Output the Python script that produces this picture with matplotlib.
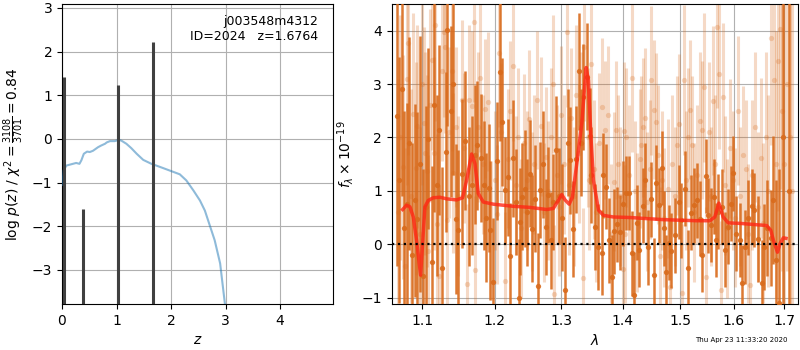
import numpy as np
import matplotlib
matplotlib.use('Agg')
import matplotlib.pyplot as plt
from matplotlib.ticker import NullLocator

# ---------------- p(z) panel data ----------------
z_grid = [0.005, 0.03, 0.08, 0.14, 0.20, 0.26, 0.32, 0.355, 0.40, 0.46, 0.51, 0.57,
          0.66, 0.72, 0.79, 0.82, 0.88, 0.97, 1.04, 1.09, 1.18, 1.27, 1.37, 1.49,
          1.64, 1.73, 1.86, 2.01, 2.16, 2.28, 2.41, 2.53, 2.62, 2.71, 2.80, 2.90, 2.99]
logp = [-1.05, -0.72, -0.61, -0.59, -0.57, -0.55, -0.57, -0.49, -0.34, -0.29, -0.30, -0.27,
        -0.19, -0.15, -0.11, -0.08, -0.05, -0.05, -0.02, -0.04, -0.11, -0.21, -0.34, -0.48,
        -0.57, -0.61, -0.67, -0.74, -0.81, -0.95, -1.18, -1.41, -1.64, -1.98, -2.32, -2.85, -3.80]
spike_z = [0.03, 0.39, 1.03, 1.665]
spike_logp = [1.42, -1.60, 1.23, 2.22]

obj_name = 'j003548m4312'
obj_id = 2024
z_best = 1.6764
chi2_num, chi2_den = 3108, 3701

# ---------------- spectrum panel data ----------------
# dark (primary) spectrum: wavelength [um], flux, error
wave_a = [1.0666, 1.0700, 1.0730, 1.0765, 1.0795, 1.0829, 1.0865, 1.0903, 1.0934, 1.0970,
          1.1005, 1.1045, 1.1080, 1.1125, 1.1160, 1.1193, 1.1228, 1.1269, 1.1315, 1.1337,
          1.1383, 1.1420, 1.1456, 1.1488, 1.1535, 1.1581, 1.1630, 1.1683, 1.1721, 1.1753,
          1.1801, 1.1848, 1.1880, 1.1915, 1.1934, 1.1973, 1.2035, 1.2074, 1.2107, 1.2157,
          1.2195, 1.2230, 1.2268, 1.2312, 1.2352, 1.2367, 1.2401, 1.2441, 1.2482, 1.2516,
          1.2557, 1.2602, 1.2641, 1.2678, 1.2718, 1.2759, 1.2794, 1.2836, 1.2871, 1.2924,
          1.2964, 1.3010, 1.3053, 1.3111, 1.3147, 1.3184, 1.3227, 1.3289, 1.3320, 1.3350,
          1.3417, 1.3452, 1.3480, 1.3534, 1.3595, 1.3650, 1.3677, 1.3722, 1.3771, 1.3826,
          1.3854, 1.3900, 1.3955, 1.4000, 1.4050, 1.4108, 1.4154, 1.4199, 1.4240, 1.4281,
          1.4339, 1.4387, 1.4428, 1.4488, 1.4530, 1.4578, 1.4625, 1.4674, 1.4710, 1.4747,
          1.4796, 1.4839, 1.4913, 1.4975, 1.5025, 1.5088, 1.5152, 1.5202, 1.5248, 1.5309,
          1.5357, 1.5410, 1.5467, 1.5515, 1.5564, 1.5628, 1.5665, 1.5701, 1.5780, 1.5832,
          1.5890, 1.5940, 1.5980, 1.6050, 1.6114, 1.6163, 1.6210, 1.6270, 1.6355, 1.6400,
          1.6470, 1.6550, 1.6600, 1.6660, 1.6726, 1.6775, 1.6840, 1.6904, 1.6977, 1.7100]
flux_a = [2.40, 1.20, 2.90, 0.30, 0.75, 1.89, -0.20, 0.82, 0.48, 1.50,
          -0.60, 0.69, 1.98, -0.34, 2.60, 1.10, 2.14, -0.45, 1.72, 4.01,
          2.49, 3.00, 0.47, 0.26, 1.32, 1.94, 0.90, 1.10, 1.68, 1.85,
          1.62, 1.10, 0.50, 1.06, 0.26, -0.70, 1.56, 3.23, 2.29, 1.01,
          1.25, -0.22, 1.61, 0.79, -1.00, 0.42, 0.89, 1.04, 0.60, 1.32,
          0.29, 0.85, -0.79, 1.01, 1.50, 0.32, 0.93, 0.07, 0.79, 1.77,
          0.90, 0.50, -0.86, 1.90, 1.57, 0.29, 1.59, 3.24, 1.90, 2.76,
          3.14, 2.02, 1.29, 0.32, -0.05, -0.16, 1.29, 1.08, 0.07, -0.62,
          0.24, 0.37, 0.22, 0.76, 0.96, 0.96, -0.17, -0.95, 0.40, -0.10,
          0.72, 1.20, -0.06, 0.84, -0.58, 1.15, 0.73, 1.43, 0.30, -0.52,
          0.03, -0.12, 0.17, 0.79, 0.45, 1.04, -0.44, 0.59, 0.73, 0.82,
          0.48, -0.20, 1.28, 0.54, 0.36, 0.89, 0.08, 0.61, 0.70, -0.10,
          0.33, 0.76, 1.33, 0.20, 0.08, -0.72, -0.05, 0.50, 0.71, 0.64,
          0.10, -0.72, -0.05, 0.30, 0.12, 0.82, -0.30, -1.10, 2.00, 1.00]
err_a = [2.8, 2.3, 2.0, 2.2, 1.9, 2.0, 2.1, 1.8, 2.0, 2.4,
         2.0, 1.9, 1.7, 1.8, 2.0, 1.7, 1.6, 1.9, 1.5, 1.8,
         1.6, 1.7, 1.4, 1.5, 1.4, 1.3, 1.3, 1.3, 1.3, 1.2,
         1.2, 1.2, 1.2, 1.2, 1.3, 1.2, 1.1, 1.3, 1.2, 1.0,
         1.1, 1.0, 1.1, 1.0, 1.1, 1.0, 1.0, 1.1, 1.0, 1.0,
         1.0, 1.0, 1.0, 0.9, 1.0, 0.9, 0.9, 0.9, 0.9, 1.0,
         0.9, 1.0, 1.0, 1.0, 1.0, 0.9, 1.0, 1.1, 1.0, 1.0,
         1.0, 0.9, 0.9, 0.8, 0.8, 0.8, 0.8, 0.8, 0.8, 0.8,
         0.8, 0.7, 0.7, 0.8, 0.7, 0.7, 0.8, 0.8, 0.7, 0.7,
         0.7, 0.7, 0.7, 0.7, 0.7, 0.7, 0.7, 0.7, 0.7, 0.7,
         0.7, 0.7, 0.7, 0.7, 0.7, 0.7, 0.7, 0.7, 0.7, 0.7,
         0.7, 0.7, 0.7, 0.7, 0.7, 0.7, 0.7, 0.7, 0.7, 0.7,
         0.7, 0.7, 0.7, 0.7, 0.7, 0.7, 0.7, 0.7, 0.7, 0.7,
         0.8, 0.8, 0.8, 0.9, 0.9, 1.2, 1.5, 2.5, 4.0, 5.0]

# light (secondary) spectrum
wave_b = [1.0680, 1.0715, 1.0751, 1.0780, 1.0803, 1.0816, 1.0850, 1.0882, 1.0913, 1.0926,
          1.0965, 1.1000, 1.1018, 1.1036, 1.1058, 1.1080, 1.1105, 1.1133, 1.1160, 1.1169,
          1.1191, 1.1227, 1.1259, 1.1290, 1.1310, 1.1327, 1.1360, 1.1395, 1.1418, 1.1450,
          1.1490, 1.1533, 1.1565, 1.1603, 1.1635, 1.1682, 1.1706, 1.1724, 1.1760, 1.1790,
          1.1830, 1.1862, 1.1910, 1.1949, 1.2000, 1.2037, 1.2066, 1.2100, 1.2149, 1.2190,
          1.2230, 1.2270, 1.2310, 1.2350, 1.2390, 1.2430, 1.2470, 1.2506, 1.2550, 1.2590,
          1.2630, 1.2691, 1.2730, 1.2760, 1.2800, 1.2835, 1.2872, 1.2896, 1.2940, 1.2970,
          1.3001, 1.3040, 1.3089, 1.3120, 1.3158, 1.3200, 1.3240, 1.3280, 1.3310, 1.3341,
          1.3368, 1.3420, 1.3450, 1.3480, 1.3520, 1.3560, 1.3600, 1.3654, 1.3710, 1.3754,
          1.3800, 1.3848, 1.3880, 1.3920, 1.3960, 1.4005, 1.4021, 1.4044, 1.4061, 1.4110,
          1.4157, 1.4200, 1.4250, 1.4290, 1.4317, 1.4346, 1.4375, 1.4420, 1.4460, 1.4491,
          1.4538, 1.4570, 1.4608, 1.4640, 1.4680, 1.4720, 1.4786, 1.4815, 1.4860, 1.4900,
          1.4948, 1.4984, 1.5030, 1.5075, 1.5100, 1.5136, 1.5178, 1.5220, 1.5260, 1.5310,
          1.5360, 1.5405, 1.5441, 1.5480, 1.5534, 1.5570, 1.5608, 1.5650, 1.5683, 1.5721,
          1.5750, 1.5790, 1.5830, 1.5880, 1.5930, 1.5980, 1.6030, 1.6086, 1.6130, 1.6183,
          1.6230, 1.6270, 1.6313, 1.6360, 1.6420, 1.6480, 1.6531, 1.6580, 1.6630, 1.6680,
          1.6731, 1.6792, 1.6840, 1.6881, 1.6915, 1.6960, 1.7000, 1.7050, 1.7120, 1.7155]
flux_b = [0.60, 2.00, 1.45, -0.40, 3.10, 3.77, 0.90, 2.44, 1.42, 2.21,
          0.20, 3.00, 2.27, 1.70, 1.37, -0.12, 2.60, 3.46, 1.70, 4.10,
          0.37, -0.59, 3.25, 3.98, 3.69, 0.46, 2.10, 3.25, 1.34, 2.20,
          0.90, 2.70, 1.80, -0.74, 2.71, 2.59, 4.17, -0.49, 2.20, 3.12,
          1.50, 2.54, 2.67, 0.26, 1.20, 0.56, 3.59, 2.10, -0.69, 1.60,
          2.50, 3.33, 1.10, 2.00, 0.30, 1.89, 1.20, 2.34, 0.80, 1.50,
          2.70, 2.21, 0.60, 1.64, 1.00, 2.00, 3.00, -0.94, 1.30, 0.70,
          2.42, 1.50, 3.97, 1.10, 2.37, 0.90, 2.80, 1.70, 2.30, -0.63,
          3.70, 2.00, 1.20, 3.38, 1.40, 0.60, 1.90, 2.57, 2.14, 2.42,
          0.20, 1.17, 2.14, 1.50, 0.90, -0.47, 2.12, 0.19, 2.00, 1.30,
          3.12, 1.00, 0.40, 1.60, 1.85, 2.19, 2.37, 0.80, 1.40, 3.07,
          2.52, 2.29, 1.68, -0.22, 1.20, 0.50, 1.04, -0.80, 1.50, 0.90,
          1.85, 2.26, -0.92, 3.08, 1.20, 2.00, 2.52, 1.85, 0.60, 1.30,
          2.30, 2.14, 2.94, -0.61, 2.11, 0.90, 2.69, 1.50, 4.06, 3.19,
          -0.86, 2.75, 1.10, 0.30, 1.80, 1.20, 0.50, 2.50, 0.90, 1.67,
          1.40, 0.20, -0.77, 1.30, 2.20, 0.70, 1.61, 0.40, 2.00, 1.00,
          3.86, 3.07, 1.50, 3.43, 4.04, 2.50, 1.50, 3.00, 2.00, 1.00]
err_b = [2.5, 2.3, 2.1, 2.2, 2.0, 2.1, 2.0, 1.9, 2.0, 1.9,
         2.0, 1.9, 1.8, 1.9, 1.8, 1.8, 1.8, 1.7, 1.8, 1.8,
         1.7, 1.7, 1.7, 1.6, 1.6, 1.6, 1.6, 1.5, 1.5, 1.5,
         1.5, 1.5, 1.4, 1.5, 1.4, 1.4, 1.5, 1.4, 1.4, 1.4,
         1.3, 1.3, 1.3, 1.3, 1.3, 1.3, 1.4, 1.3, 1.3, 1.3,
         1.3, 1.4, 1.3, 1.3, 1.3, 1.3, 1.3, 1.3, 1.3, 1.3,
         1.3, 1.3, 1.3, 1.3, 1.3, 1.3, 1.3, 1.3, 1.3, 1.3,
         1.3, 1.3, 1.4, 1.3, 1.3, 1.3, 1.3, 1.3, 1.3, 1.3,
         1.4, 1.3, 1.3, 1.3, 1.3, 1.3, 1.3, 1.3, 1.3, 1.3,
         1.3, 1.3, 1.3, 1.3, 1.3, 1.3, 1.3, 1.3, 1.3, 1.3,
         1.4, 1.3, 1.3, 1.3, 1.3, 1.3, 1.3, 1.3, 1.3, 1.4,
         1.3, 1.3, 1.3, 1.3, 1.3, 1.3, 1.3, 1.3, 1.3, 1.3,
         1.3, 1.3, 1.3, 1.4, 1.3, 1.3, 1.3, 1.3, 1.3, 1.3,
         1.3, 1.3, 1.4, 1.3, 1.3, 1.3, 1.4, 1.3, 1.5, 1.4,
         1.3, 1.4, 1.3, 1.3, 1.3, 1.3, 1.3, 1.4, 1.3, 1.3,
         1.3, 1.3, 1.3, 1.4, 1.4, 1.4, 1.5, 1.5, 1.6, 1.8,
         2.0, 2.2, 2.5, 2.8, 3.0, 3.0, 3.0, 3.5, 4.0, 4.0]

# best-fit model
model_wave = [1.0743, 1.0795, 1.0838, 1.0882, 1.0925, 1.0978, 1.1035, 1.1080, 1.1146, 1.1236,
              1.1327, 1.1464, 1.1547, 1.1603, 1.1673, 1.1720, 1.1767, 1.1838, 1.1982, 1.2273,
              1.2522, 1.2776, 1.2879, 1.2957, 1.3009, 1.3062, 1.3126, 1.3178, 1.3247, 1.3327,
              1.3397, 1.3434, 1.3472, 1.3515, 1.3597, 1.3679, 1.3845, 1.4126, 1.4412, 1.4704,
              1.4995, 1.5299, 1.5546, 1.5640, 1.5716, 1.5798, 1.5894, 1.6122, 1.6383, 1.6648,
              1.6729, 1.6783, 1.6864, 1.6916, 1.6984, 1.7039]
model_flux = [0.65, 0.73, 0.70, 0.51, 0.07, -0.58, 0.70, 0.82, 0.87, 0.88,
              0.85, 0.83, 0.87, 1.20, 1.69, 1.51, 0.95, 0.79, 0.75, 0.71,
              0.69, 0.65, 0.67, 0.82, 0.93, 0.83, 0.75, 0.88, 1.51, 2.26,
              3.31, 3.07, 2.07, 1.20, 0.64, 0.54, 0.51, 0.50, 0.48, 0.46,
              0.45, 0.44, 0.44, 0.51, 0.77, 0.51, 0.40, 0.39, 0.37, 0.35,
              0.26, 0.07, -0.15, 0.01, 0.12, 0.11]

timestamp = 'Thu Apr 23 11:33:20 2020'

orange = (0.85, 0.42, 0.11)

fig = plt.figure(figsize=(8, 3.5), dpi=100)

# ---------------- left panel ----------------
ax1 = fig.add_axes([62 / 800, 46 / 350, 271 / 800, 300 / 350])
ax1.plot(z_grid, logp, color='#1f77b4', alpha=0.5, lw=1.5, zorder=3)
ax1.vlines(spike_z, -10, spike_logp, color='0.25', lw=2.2, zorder=4)
ax1.set_xlim(0, 4.97)
ax1.set_ylim(-3.78, 3.09)
ax1.set_xticks([0, 1, 2, 3, 4])
ax1.set_yticks([-3, -2, -1, 0, 1, 2, 3])
ax1.grid(True, color='#b0b0b0', lw=0.8)
ax1.set_xlabel(r'$z$', fontsize=10)
ax1.set_ylabel(r'log $p(z)$ / $\chi^2=\frac{%d}{%d}=%.2f$' % (chi2_num, chi2_den, chi2_num / chi2_den),
               fontsize=10)
ax1.text(0.945, 0.965, '%s\nID=%d   z=%.4f' % (obj_name, obj_id, z_best),
         transform=ax1.transAxes, ha='right', va='top', fontsize=9)
ax1.tick_params(labelsize=10)

# ---------------- right panel ----------------
ax2 = fig.add_axes([391.7 / 800, 46 / 350, 406 / 800, 300 / 350])
ax2.errorbar(wave_b, flux_b, yerr=err_b, color=orange, alpha=0.25, marker='o', ms=3.8,
             mew=0, lw=2.2, linestyle='none', zorder=2)
ax2.errorbar(wave_a, flux_a, yerr=err_a, color=orange, alpha=0.9, marker='o', ms=3.8,
             mew=0, lw=1.8, linestyle='none', zorder=3)
ax2.plot(model_wave, model_flux, color=(1.0, 0.15, 0.08), alpha=0.8, lw=2.5, zorder=5)
ax2.axhline(0, color='k', ls=':', lw=1.6, zorder=6)
ax2.set_xscale('log')
ax2.set_xlim(1.0603, 1.728)
ax2.set_ylim(-1.12, 4.5)
xt = [1.1, 1.2, 1.3, 1.4, 1.5, 1.6, 1.7]
ax2.set_xticks(xt)
ax2.set_xticklabels(['%.1f' % v for v in xt])
ax2.xaxis.set_minor_locator(NullLocator())
ax2.set_yticks([-1, 0, 1, 2, 3, 4])
ax2.grid(True, color='#b0b0b0', lw=0.8)
ax2.set_xlabel(r'$\lambda$', fontsize=10)
ax2.set_ylabel(r'$f_\lambda\times10^{-19}$', fontsize=10)
ax2.tick_params(labelsize=10)

fig.text(0.984, 0.022, timestamp, ha='right', va='baseline', fontsize=5)

fig.savefig('out.png', dpi=100)
